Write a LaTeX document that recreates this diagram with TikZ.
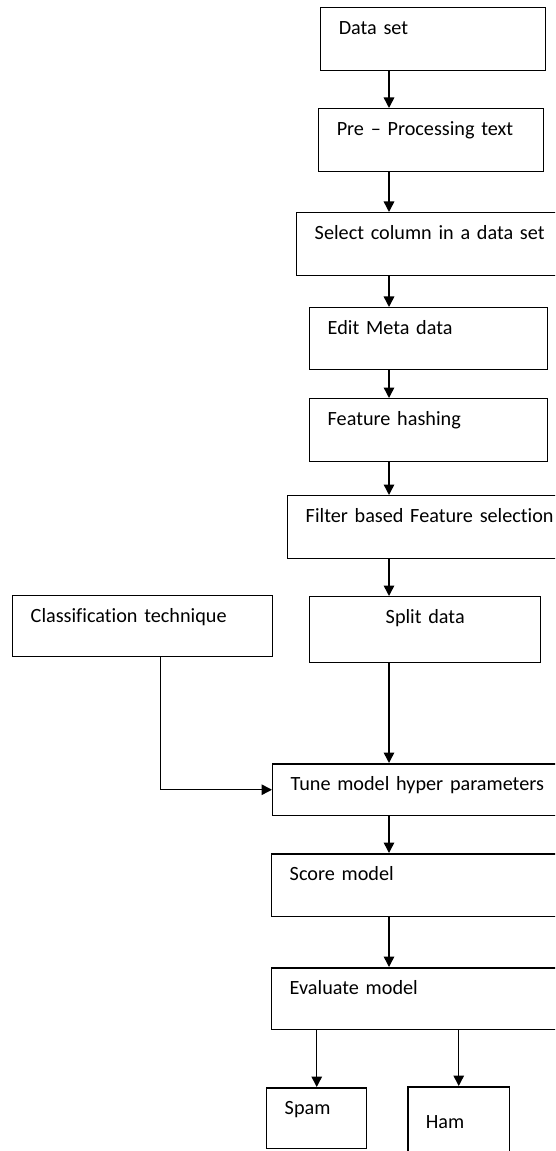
\documentclass[tikz,border=0pt]{standalone}
\usepackage{fontspec}
\setmainfont{Carlito}[WordSpace=0.75, Ligatures=NoCommon]
\usetikzlibrary{positioning,arrows.meta}

\tikzset{
  box/.style={draw, line width=0.85pt, anchor=north west, inner xsep=0.36cm, inner ysep=0pt,
    text height=0.54cm, align=left, font=\fontsize{11.5}{13}\selectfont},
  flow/.style={line width=0.85pt, -{Triangle[length=0.21cm,width=0.21cm]}}
}

\begin{document}
\begin{tikzpicture}[x=0.02cm, y=-0.02cm]
      \useasboundingbox (0,0) rectangle (555,1151);
      \clip (0,0) rectangle (555,1151);
      \coordinate (spine) at (389,0);

      \node[box, text width=3.78cm, text depth=0.72cm] (dataset) at (320,7) {Data set};
      \node[box, text width=3.78cm, text depth=0.72cm] (preproc) at (318,108) {Pre -- Processing text};
      \node[box, text width=5.20cm, text depth=0.72cm] (selcol) at (296,212) {Select column in a data set};
      \node[box, text width=4.04cm, text depth=0.70cm] (meta) at (309,307) {Edit Meta data};
      \node[box, text width=4.04cm, text depth=0.72cm] (hashing) at (309,398) {Feature hashing};
      \node[box, text width=5.60cm, text depth=0.72cm] (filter) at (287,495) {Filter based Feature selection};
      \node[box, text width=4.48cm, text depth=0.68cm] (classif) at (12,595) {Classification technique};
      \node[box, text width=3.90cm, text depth=0.78cm, align=center] (split) at (309,596) {Split data};
      \node[box, text width=5.40cm, text depth=0.50cm] (tune) at (272,763) {Tune model hyper parameters};
      \node[box, text width=5.40cm, text depth=0.72cm] (score) at (271,853) {Score model};
      \node[box, text width=5.40cm, text depth=0.70cm] (evaluate) at (271,967) {Evaluate model};
      \node[box, text width=1.28cm, text depth=0.68cm] (spam) at (266,1087) {Spam};
      \node[box, text width=1.32cm, text height=0.84cm, text depth=0.80cm] (ham) at (407,1086) {Ham};

      % main chain
      \draw[flow] (dataset.south -| spine) -- (preproc.north -| spine);
      \draw[flow] (preproc.south -| spine) -- (selcol.north -| spine);
      \draw[flow] (selcol.south -| spine) -- (meta.north -| spine);
      \draw[flow] (meta.south -| spine) -- (hashing.north -| spine);
      \draw[flow] (hashing.south -| spine) -- (filter.north -| spine);
      \draw[flow] (filter.south -| spine) -- (split.north -| spine);
      \draw[flow] (split.south -| spine) -- (tune.north -| spine);
      \draw[flow] ([xshift=0.36cm]classif.south) |- (tune.west);
      \draw[flow] (tune.south -| spine) -- (score.north -| spine);
      \draw[flow] (score.south -| spine) -- (evaluate.north -| spine);
      % outcomes
      \draw[flow] (evaluate.south -| spam.north) -- (spam.north);
      \draw[flow] (evaluate.south -| ham.north) -- (ham.north);
    \end{tikzpicture}
\end{document}
